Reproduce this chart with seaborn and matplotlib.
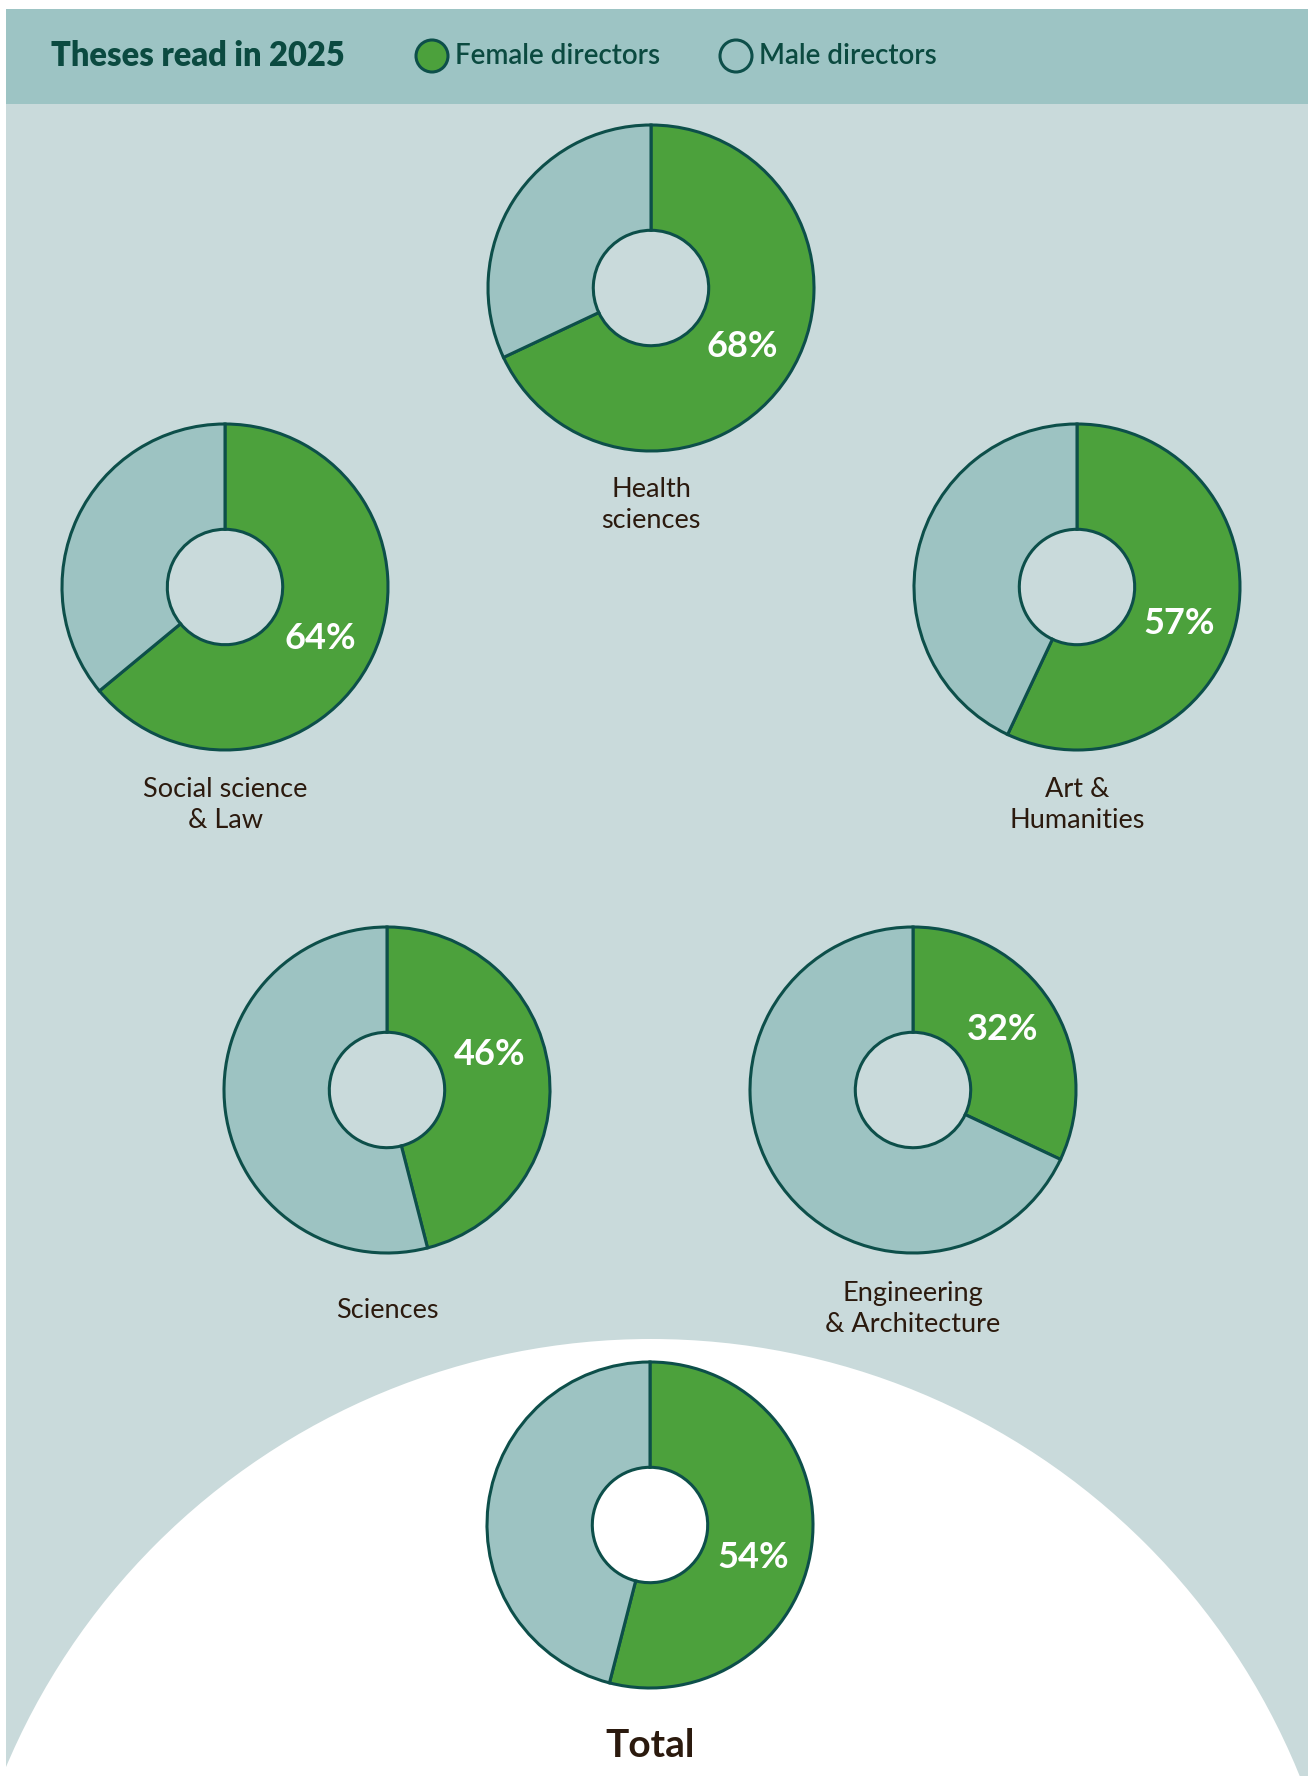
import matplotlib
matplotlib.use("Agg")
import matplotlib.pyplot as plt
from matplotlib.patches import Rectangle, Circle
import numpy as np
import seaborn as sns

# ---------------- data ----------------
categories = ["Health\nsciences", "Social science\n& Law", "Art &\nHumanities",
              "Sciences", "Engineering\n& Architecture", "Total"]
female_pct = [68, 64, 57, 46, 32, 54]
male_pct = [32, 36, 43, 54, 68, 46]
title_text = "Theses read in 2025"
legend_labels = ["Female directors", "Male directors"]

# ---------------- style ----------------
sns.set_theme(style="white")
plt.rcParams["font.family"] = ["Lato", "DejaVu Sans"]

GREEN = "#4ca13c"
MALE = "#9dc3c2"
EDGE = "#0d4f4a"
HEADER = "#9dc4c4"
BODY = "#c9dadb"
TEXT = "#2b1a0e"
TITLE = "#0b4a40"
palette = sns.color_palette([GREEN, MALE])

W, H = 1314, 1776
fig = plt.figure(figsize=(W / 100, H / 100), dpi=100, facecolor="white")
ax = fig.add_axes([0, 0, 1, 1])

def Y(y):  # pixel-from-top to data y
    return H - y

# backgrounds
ax.add_patch(Rectangle((6, 0), 1302, Y(104), facecolor=BODY, edgecolor="none", zorder=0))
ax.add_patch(Rectangle((6, Y(104)), 1302, 95, facecolor=HEADER, edgecolor="none", zorder=0))
ax.add_patch(Circle((651, Y(1339 + 700)), 700, facecolor="white", edgecolor="none", zorder=0.5))

# layout (pixel centres, from top)
centers = [(651, 288), (225, 587), (1077, 587), (387, 1090), (913, 1090), (650, 1525)]
label_y = [505, 805, 805, 1310, 1309, 1745]
pct_angle_nudge = [0, 3, 7, -12, -1.5, 10]   # degrees, clockwise
R = 163
hole = 0.354

for i, (cx, cy) in enumerate(centers):
    vals = [female_pct[i], male_pct[i]]
    ax.pie(vals, colors=palette, startangle=90, counterclock=False,
           center=(cx, Y(cy)), radius=R, frame=True,
           wedgeprops=dict(width=R * (1 - hole), edgecolor=EDGE, linewidth=2.2))
    mid = np.deg2rad(90 - (female_pct[i] / 100 * 360 / 2 + pct_angle_nudge[i]))
    rr = R * 0.665
    ax.text(cx + rr * np.cos(mid), Y(cy) + rr * np.sin(mid), f"{female_pct[i]}%",
            color="white", fontsize=26, fontweight="bold", ha="center", va="center", zorder=5)
    is_total = categories[i] == "Total"
    ax.text(cx, Y(label_y[i]), categories[i], color=TEXT,
            fontsize=28 if is_total else 19.5, fontweight="bold" if is_total else "normal",
            ha="center", va="center", linespacing=1.3, zorder=5)

# header
ax.text(51, Y(56), title_text, color=TITLE, fontsize=23.5, fontweight="heavy",
        ha="left", va="center")
for (x0, lab, col) in [(432, legend_labels[0], GREEN), (736, legend_labels[1], "none")]:
    ax.add_patch(Circle((x0, Y(56)), 16, facecolor=col, edgecolor=EDGE, linewidth=2.2, zorder=3))
    ax.text(x0 + 23, Y(56), lab, color=TITLE, fontsize=20, fontweight="semibold",
            ha="left", va="center")

ax.set_xlim(0, W)
ax.set_ylim(0, H)
ax.set_aspect("equal")
ax.axis("off")
fig.savefig("out.png", dpi=100, facecolor="white")
